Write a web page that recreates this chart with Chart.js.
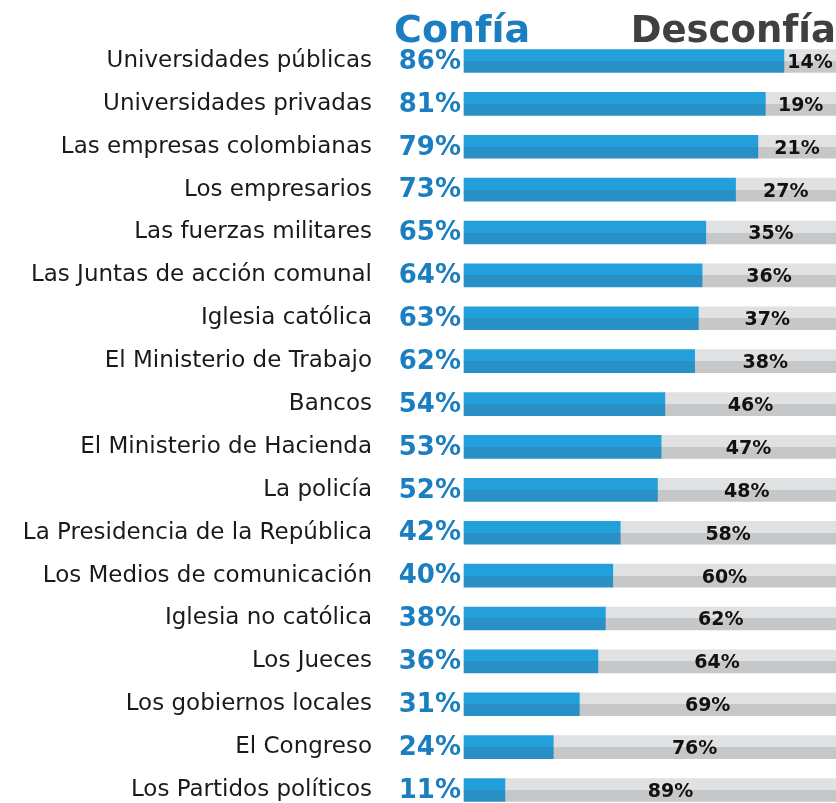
<!DOCTYPE html>
<html>
<head>
<meta charset="utf-8">
<script src="https://cdn.jsdelivr.net/npm/chart.js@4/dist/chart.umd.min.js"></script>
<style>
html,body{margin:0;padding:0;background:#fff;}
canvas{display:block;}
</style>
</head>
<body>
<canvas id="c" width="836" height="803"></canvas>
<script>
const categories = [
  "Universidades públicas",
  "Universidades privadas",
  "Las empresas colombianas",
  "Los empresarios",
  "Las fuerzas militares",
  "Las Juntas de acción comunal",
  "Iglesia católica",
  "El Ministerio de Trabajo",
  "Bancos",
  "El Ministerio de Hacienda",
  "La policía",
  "La Presidencia de la República",
  "Los Medios de comunicación",
  "Iglesia no católica",
  "Los Jueces",
  "Los gobiernos locales",
  "El Congreso",
  "Los Partidos políticos"
];
const confia = [86, 81, 79, 73, 65, 64, 63, 62, 54, 53, 52, 42, 40, 38, 36, 31, 24, 11];
const desconfia = [14, 19, 21, 27, 35, 36, 37, 38, 46, 47, 48, 58, 60, 62, 64, 69, 76, 89];
const seriesNames = ["Confía", "Desconfía"];

const BAR_H = 23;
const FONT = "'DejaVu Sans', sans-serif";

function twoTone(light, dark) {
  return (ctx) => {
    const chart = ctx.chart;
    const ys = chart.scales && chart.scales.y;
    if (ctx.type !== 'data' || !ys) return light;
    const c = ys.getPixelForValue(ctx.dataIndex);
    if (!Number.isFinite(c)) return light;
    const g = chart.ctx.createLinearGradient(0, c - BAR_H / 2, 0, c + BAR_H / 2);
    g.addColorStop(0, light);
    g.addColorStop(0.5, light);
    g.addColorStop(0.5, dark);
    g.addColorStop(1, dark);
    return g;
  };
}

const textPlugin = {
  id: 'textPlugin',
  afterDatasetsDraw(chart) {
    const ctx = chart.ctx;
    const area = chart.chartArea;
    const ys = chart.scales.y;
    ctx.save();
    ctx.font = "bold 26px " + FONT;
    ctx.fillStyle = "#1b7ec0";
    ctx.textAlign = "right";
    ctx.textBaseline = "middle";
    confia.forEach((v, i) => {
      ctx.fillText(v + "%", area.left - 3, ys.getPixelForValue(i) + 1);
    });
    const meta = chart.getDatasetMeta(1);
    ctx.font = "bold 19px " + FONT;
    ctx.fillStyle = "#111";
    ctx.textAlign = "center";
    desconfia.forEach((v, i) => {
      const el = meta.data[i];
      const cx = (el.x + el.base) / 2;
      ctx.fillText(v + "%", cx, el.y + 2);
    });
    ctx.textBaseline = "alphabetic";
    ctx.font = "bold 38px " + FONT;
    ctx.fillStyle = "#1b7ec0";
    ctx.textAlign = "left";
    ctx.fillText(seriesNames[0], 394, 42);
    ctx.font = "bold 37px " + FONT;
    ctx.fillStyle = "#404040";
    ctx.textAlign = "right";
    ctx.fillText(seriesNames[1], 836, 42);
    ctx.restore();
  }
};

new Chart(document.getElementById('c'), {
  type: 'bar',
  data: {
    labels: categories,
    datasets: [
      { label: seriesNames[0], data: confia, backgroundColor: twoTone('#23a0db', '#2890c4'), barThickness: BAR_H, borderWidth: 0, clip: false },
      { label: seriesNames[1], data: desconfia, backgroundColor: twoTone('#dfe1e2', '#c6c7c9'), barThickness: BAR_H, borderWidth: 0, clip: false }
    ]
  },
  options: {
    indexAxis: 'y',
    responsive: false,
    animation: false,
    layout: { padding: { top: 61, bottom: 13, left: 0, right: 0 } },
    plugins: { legend: { display: false }, tooltip: { enabled: false } },
    scales: {
      x: { stacked: true, min: 0, max: 100, display: false },
      y: {
        stacked: true,
        offset: false,
        grid: { display: false, drawTicks: false },
        border: { display: false },
        ticks: { color: '#1a1a1a', font: { family: FONT, size: 23 }, padding: 92 },
        afterFit(scale) { scale.width = 464; scale.paddingTop = 0; scale.paddingBottom = 0; }
      }
    }
  },
  plugins: [textPlugin]
});
</script>
</body>
</html>
